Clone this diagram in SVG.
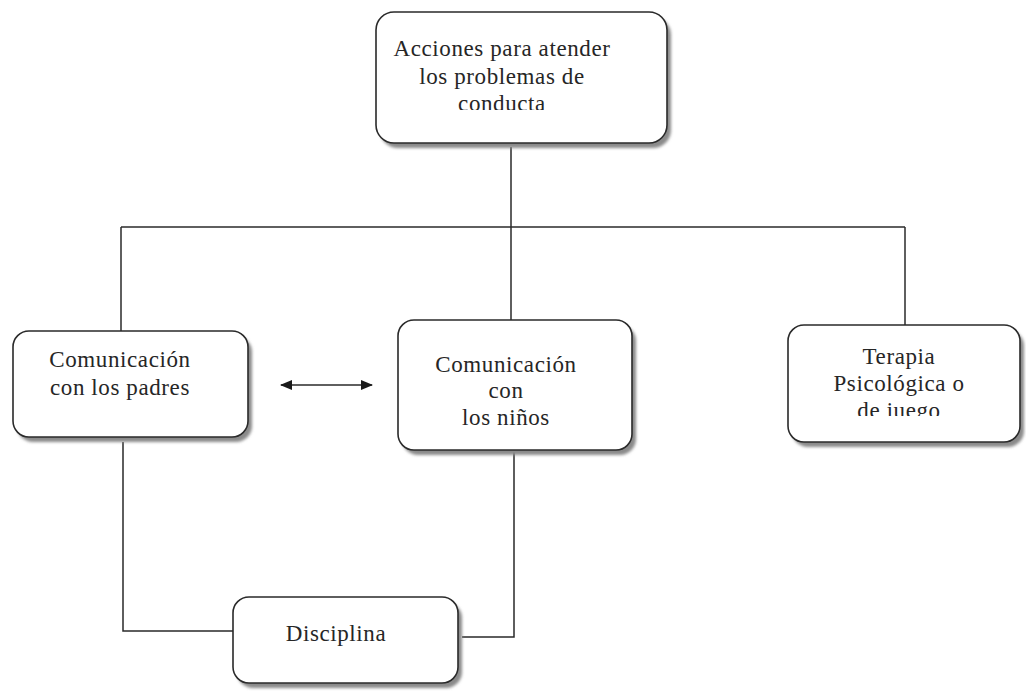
<svg xmlns="http://www.w3.org/2000/svg" width="1026" height="692" viewBox="0 0 1026 692">
<style>
.box{fill:#ffffff;stroke:#2a2a2a;stroke-width:1.6}
.sh{fill:#8a8a8a;filter:url(#blur)}
.t{font-family:"Liberation Serif","Times New Roman",serif;font-size:23px;letter-spacing:0.6px;fill:#262626;text-anchor:middle}
.ln{fill:none;stroke:#2a2a2a;stroke-width:1.5}
</style>
<defs>
<filter id="blur" x="-10%" y="-10%" width="120%" height="120%"><feGaussianBlur stdDeviation="1.5"/></filter>
<marker id="ah" viewBox="0 0 12 10" refX="11" refY="5" markerWidth="12" markerHeight="10" markerUnits="userSpaceOnUse" orient="auto-start-reverse"><path d="M0,0 L12,5 L0,10 z" fill="#1a1a1a"/></marker>
<clipPath id="c1"><rect x="376" y="12" width="291" height="98"/></clipPath>
<clipPath id="c4"><rect x="788" y="325" width="232" height="91"/></clipPath>
</defs>
<g id="connectors">
<path class="ln" d="M511,147 V227"/>
<path class="ln" d="M121,227 H905"/>
<path class="ln" d="M121,227 V331"/>
<path class="ln" d="M511,227 V320"/>
<path class="ln" d="M905,227 V325"/>
<path class="ln" d="M123,442 V631 H233"/>
<path class="ln" d="M514,450 V637 H462"/>
<line class="ln" x1="281" y1="385" x2="372" y2="385" marker-start="url(#ah)" marker-end="url(#ah)"/>
</g>
<g id="n-acciones">
<rect class="sh" x="380" y="17" width="291" height="131" rx="18"/>
<rect class="box" x="376" y="12" width="291" height="131" rx="18"/>
<g clip-path="url(#c1)">
<text class="t" x="502" y="56">Acciones para atender</text>
<text class="t" x="502" y="84">los problemas de</text>
<text class="t" x="502" y="111">conducta</text>
</g>
</g>
<g id="n-padres">
<rect class="sh" x="17" y="336" width="235" height="106" rx="16"/>
<rect class="box" x="13" y="331" width="235" height="106" rx="16"/>
<text class="t" x="120" y="367">Comunicación</text>
<text class="t" x="120" y="395">con los padres</text>
</g>
<g id="n-ninos">
<rect class="sh" x="402" y="325" width="234" height="130" rx="16"/>
<rect class="box" x="398" y="320" width="234" height="130" rx="16"/>
<text class="t" x="506" y="372">Comunicación</text>
<text class="t" x="506" y="398">con</text>
<text class="t" x="506" y="425">los niños</text>
</g>
<g id="n-terapia">
<rect class="sh" x="792" y="330" width="232" height="117" rx="16"/>
<rect class="box" x="788" y="325" width="232" height="117" rx="16"/>
<g clip-path="url(#c4)">
<text class="t" x="899" y="364">Terapia</text>
<text class="t" x="899" y="391">Psicológica o</text>
<text class="t" x="899" y="418">de juego</text>
</g>
</g>
<g id="n-disciplina">
<rect class="sh" x="237" y="602" width="225" height="86" rx="16"/>
<rect class="box" x="233" y="597" width="225" height="86" rx="16"/>
<text class="t" x="336" y="641">Disciplina</text>
</g>
</svg>
